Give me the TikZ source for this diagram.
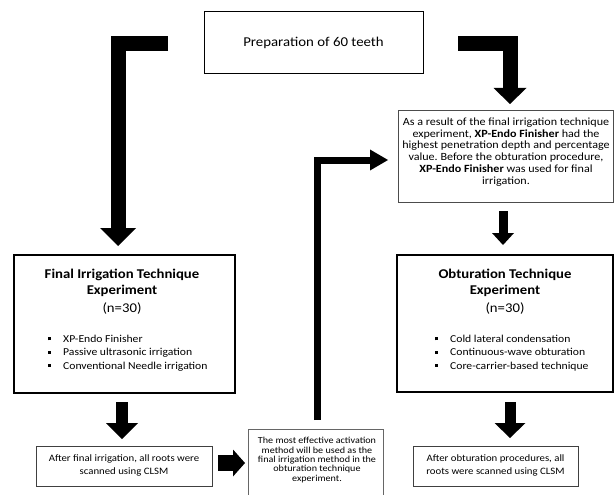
\documentclass[tikz,border=0pt]{standalone}
\usepackage{fontspec}
\setmainfont{Carlito}[FakeStretch=1.1]
\usetikzlibrary{arrows.meta}
\frenchspacing
\newcommand{\bul}{\makebox[15pt][l]{\rule[2.2pt]{3pt}{3pt}}}
\begin{document}
\begin{tikzpicture}[x=1pt,y=-1pt,
  box/.style={draw=#1, line width=0.9pt, inner sep=0pt},
  box/.default=black,
  fat/.style={line width=#1, line join=miter, line cap=butt},
  titletext/.style={font=\bfseries\fontsize{13.4}{16.5}\selectfont, align=center, inner sep=0pt},
  listtext/.style={font=\fontsize{10.6}{13.3}\selectfont, align=left, inner sep=0pt, anchor=north west},
  smalltext/.style={font=\fontsize{9.8}{13}\selectfont, align=center, inner sep=0pt}
]
\useasboundingbox (0,0) rectangle (614,495);
\clip (0,0) rectangle (614,495);

% boxes
\node[box, line width=1pt, minimum width=219pt, minimum height=62pt,
      font=\fontsize{13.5}{16}\selectfont] (top) at (313.5,43) {Preparation of 60 teeth};

\node[box=black!70, minimum width=215pt, minimum height=92pt] (xp) at (505.5,156) {};
\node[font=\fontsize{11}{11.8}\selectfont, align=center, inner sep=0pt] (xpt) at (506,152)
  {As a result of the final irrigation technique\\
   experiment, \textbf{XP-Endo Finisher} had the\\
   highest penetration depth and percentage\\
   value. Before the obturation procedure,\\
   \textbf{XP-Endo Finisher} was used for final\\
   irrigation.};

\node[box, line width=1.3pt, minimum width=221pt, minimum height=138pt] (fi) at (124.5,324) {};
\node[titletext] (fit) at (122,283) {Final Irrigation Technique\\Experiment};
\node[font=\fontsize{13.4}{16}\selectfont, inner sep=0pt] (fin) at (122,309) {(n=30)};
\node[listtext] (fil) at (48,335) {\bul XP-Endo Finisher\\ \bul Passive ultrasonic irrigation\\ \bul Conventional Needle irrigation};

\node[box, line width=1.3pt, minimum width=216pt, minimum height=137pt] (ot) at (505,323.5) {};
\node[titletext] (ott) at (505,283) {Obturation Technique\\Experiment};
\node[font=\fontsize{13.4}{16}\selectfont, inner sep=0pt] (otn) at (505,309) {(n=30)};
\node[listtext] (otl) at (435,335) {\bul Cold lateral condensation\\ \bul Continuous-wave obturation\\ \bul Core-carrier-based technique};

\node[box=black!75, line width=0.8pt, minimum width=176pt, minimum height=40pt] (bl) at (124,466) {};
\node[smalltext] (blt) at (124,465) {After final irrigation, all roots were\\scanned using CLSM};

\node[box=black!60, line width=0.8pt, minimum width=135pt, minimum height=76pt] (mid) at (315.5,467) {};
\node[font=\fontsize{9.2}{9.3}\selectfont, align=center, inner sep=0pt] (midt) at (317,460)
  {The most effective activation\\method will be used as the\\final irrigation method in the\\obturation technique\\experiment.};

\node[box=black!75, line width=0.8pt, minimum width=165pt, minimum height=40pt] (br) at (495.5,466) {};
\node[smalltext] (brt) at (495.5,465) {After obturation procedures, all\\roots were scanned using CLSM};

% connector coordinates
\coordinate (a1s) at (168,44);  \coordinate (a1e) at (118,246);
\coordinate (a2s) at (458,44);  \coordinate (a2e) at (510,104);
\coordinate (a3s) at (503,211); \coordinate (a3e) at (503,245);
\coordinate (a4s) at (122,402); \coordinate (a4e) at (122,439);
\coordinate (a5s) at (510,402); \coordinate (a5e) at (510,438);
\coordinate (a6s) at (218,463); \coordinate (a6e) at (245,463);
\coordinate (a7s) at (317.5,420); \coordinate (a7e) at (388,160);

% block arrows
\draw[fat=15pt, -{Triangle[width=36pt,length=18pt,line width=0pt]}] (a1s) -| (a1e);
\draw[fat=15pt, -{Triangle[width=33pt,length=16pt,line width=0pt]}] (a2s) -| (a2e);
\draw[fat=9pt,  -{Triangle[width=22pt,length=12pt,line width=0pt]}] (a3s) -- (a3e);
\draw[fat=12pt, -{Triangle[width=32pt,length=16pt,line width=0pt]}] (a4s) -- (a4e);
\draw[fat=11pt, -{Triangle[width=31pt,length=15pt,line width=0pt]}] (a5s) -- (a5e);
\draw[fat=16pt, -{Triangle[width=27pt,length=12pt,line width=0pt]}] (a6s) -- (a6e);
\draw[fat=7pt,  -{Triangle[width=21pt,length=18pt,line width=0pt]}] (a7s) |- (a7e);
\end{tikzpicture}
\end{document}
